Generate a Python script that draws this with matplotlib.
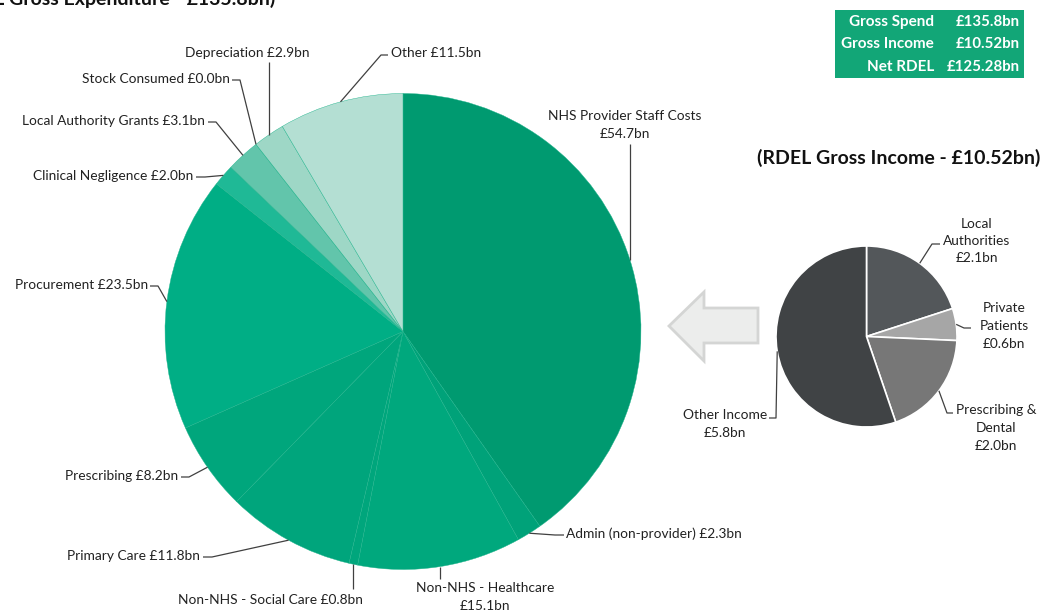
import numpy as np
import matplotlib.pyplot as plt
from matplotlib.patches import Polygon, Rectangle

plt.rcParams['font.family'] = ['Lato', 'DejaVu Sans']

W, H = 1043, 610

# RDEL gross expenditure, £bn, clockwise from 12 o'clock
spend_labels = ["NHS Provider Staff Costs", "Admin (non-provider)", "Non-NHS - Healthcare",
                "Non-NHS - Social Care", "Primary Care", "Prescribing", "Procurement",
                "Clinical Negligence", "Local Authority Grants", "Stock Consumed",
                "Depreciation", "Other"]
spend_values = [54.7, 2.3, 15.1, 0.8, 11.8, 8.2, 23.5, 2.0, 3.1, 0.0, 2.9, 11.5]

# RDEL gross income, £bn, clockwise from 12 o'clock
income_labels = ["Local\nAuthorities", "Private\nPatients", "Prescribing &\nDental", "Other Income"]
income_values = [2.1, 0.6, 2.0, 5.8]

summary_labels = ["Gross Spend", "Gross Income", "Net RDEL"]
summary_values = ["£135.8bn", "£10.52bn", "£125.28bn"]

spend_colors = ["#009a70", "#00a279", "#00a87d", "#00a67c", "#00a57c", "#00a67c",
                "#00ae85", "#1fb996", "#62c5ab", "#62c5ab", "#9ed7c6", "#b4dfd3"]
income_colors = ["#53575a", "#a6a6a6", "#777777", "#404345"]

# label layout in pixel coordinates (x, y from top)
spend_layout = [
    dict(xy=(625, 125), ha="center", sep="\n", vert=144),
    dict(xy=(566, 534), ha="left", sep=" ", pts=[(564, 535), (555, 535)]),
    dict(xy=(485, 597), ha="center", sep="\n", vert=579),
    dict(xy=(363, 600), ha="right", sep=" ", vert=589),
    dict(xy=(200, 556), ha="right", sep=" ", pts=[(203, 557), (212, 557)]),
    dict(xy=(178, 476), ha="right", sep=" ", pts=[(181, 477), (189, 477)]),
    dict(xy=(148, 285), ha="right", sep=" ", pts=[(150, 286), (158, 286)]),
    dict(xy=(193, 176), ha="right", sep=" ", pts=[(196, 177), (205, 177)]),
    dict(xy=(205, 121), ha="right", sep=" ", pts=[(208, 122), (216, 122)]),
    dict(xy=(230, 79), ha="right", sep=" ", pts=[(232, 80), (240, 80)]),
    dict(xy=(247, 53), ha="center", sep=" ", vert=62),
    dict(xy=(391, 53), ha="left", sep=" ", pts=[(388, 55), (381, 55)]),
]
income_layout = [
    dict(xy=(977, 241), ha="center", sep="\n", pts=[(940, 244), (932, 244)]),
    dict(xy=(1004, 326), ha="center", sep="\n", pts=[(971, 328), (964, 328)]),
    dict(xy=(996, 428), ha="center", sep="\n", pts=[(953, 413), (947, 413)]),
    dict(xy=(725, 424), ha="center", sep="\n", pts=[(769, 418), (776, 418)]),
]


def Y(py):
    return H - py


def edge_point(values, i, cx, cy, r):
    cum = np.concatenate([[0], np.cumsum(values)])
    frac = (cum[i] + values[i] / 2) / cum[-1]
    ang = np.deg2rad(90 - 360 * frac)
    return cx + r * np.cos(ang), cy + r * np.sin(ang)


def draw_pie(ax, labels, values, colors, layout, cx, cy, r, edge, lw):
    ax.pie(values, colors=colors, startangle=90, counterclock=False,
           center=(cx, Y(cy)), radius=r, frame=True,
           wedgeprops=dict(edgecolor=edge, linewidth=lw))
    for i, (lab, val, lay) in enumerate(zip(labels, values, layout)):
        ex, ey = edge_point(values, i, cx, Y(cy), r)
        if "vert" in lay:
            xs, ys = [ex, ex], [Y(lay["vert"]), ey]
        else:
            xs = [p[0] for p in lay["pts"]] + [ex]
            ys = [Y(p[1]) for p in lay["pts"]] + [ey]
        ax.plot(xs, ys, color="#404040", lw=0.9, solid_capstyle="butt")
        ax.text(lay["xy"][0], Y(lay["xy"][1]), f"{lab}{lay['sep']}£{val:.1f}bn",
                ha=lay["ha"], va="center", fontsize=9.9, color="#222222",
                linespacing=1.55)


fig = plt.figure(figsize=(W / 100, H / 100), dpi=100)
ax = fig.add_axes([0, 0, 1, 1])

draw_pie(ax, spend_labels, spend_values, spend_colors, spend_layout,
         403, 331.5, 238, "#1fb38b", 0.3)
draw_pie(ax, income_labels, income_values, income_colors, income_layout,
         866.5, 336.5, 90.5, "white", 1.2)

# arrow pointing from the income pie to the expenditure pie
arrow = [(669, 326), (704, 292), (704, 308), (758, 308), (758, 343), (704, 343), (704, 361)]
ax.add_patch(Polygon([(x, Y(y)) for x, y in arrow], closed=True,
                     facecolor="#ecedec", edgecolor="#d4d5d4", lw=2, joinstyle="miter"))

ax.text(275, Y(5), "(RDEL Gross Expenditure - £135.8bn)", ha="right", va="baseline",
        fontsize=14, fontweight="bold", color="#111111")
ax.text(899, Y(158), "(RDEL Gross Income - £10.52bn)", ha="center", va="center",
        fontsize=14, fontweight="bold", color="#111111")

# summary box
ax.add_patch(Rectangle((835, Y(78)), 189, 68, facecolor="#12a677", edgecolor="none"))
for k, (lab, val) in enumerate(zip(summary_labels, summary_values)):
    yy = Y(22 + k * 22.5)
    ax.text(934, yy, lab, ha="right", va="center", fontsize=11,
            fontweight="bold", color="white")
    ax.text(1020, yy, val, ha="right", va="center", fontsize=10.8,
            fontweight="bold", color="white")

ax.set_xlim(0, W)
ax.set_ylim(0, H)
ax.set_aspect("equal")
ax.axis("off")

fig.savefig("out.png", dpi=100, facecolor="white")
